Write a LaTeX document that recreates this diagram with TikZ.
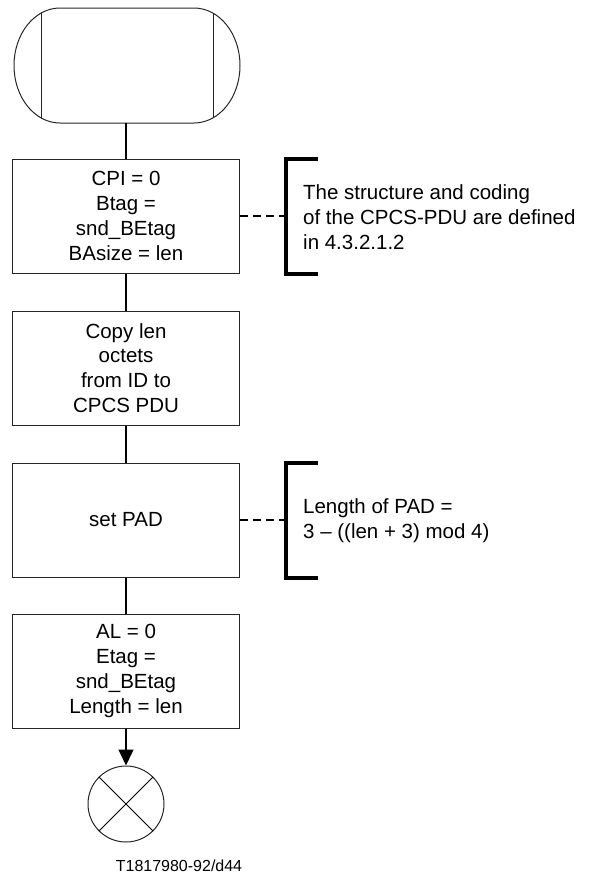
\documentclass[tikz,border=0pt]{standalone}
\usepackage{fontspec}
\setmainfont{Liberation Sans}
\usetikzlibrary{arrows.meta}
\begin{document}
\begin{tikzpicture}[x=1bp,y=-1bp,
  box/.style={draw=black!85, line width=1bp, minimum width=227bp, minimum height=114bp,
    align=center, inner sep=0pt, font=\fontsize{20.5bp}{24.8bp}\selectfont},
  conn/.style={line width=1.5bp},
  cmt/.style={line width=1.2bp, dash pattern=on 8bp off 5bp},
  brk/.style={line width=4bp, line join=miter},
  ctext/.style={anchor=west, align=left, inner sep=0pt, font=\fontsize{20.5bp}{25bp}\selectfont},
  termline/.style={line width=1bp, draw=black!85}]
\useasboundingbox (0,0) rectangle (591,877);

% start terminator
\draw[termline] (60,8) arc[start angle=270, end angle=90, x radius=46, y radius=57.5]
  -- (194,123) arc[start angle=90, end angle=-90, x radius=46, y radius=57.5] -- cycle;
\begin{scope}
  \clip (60,8) arc[start angle=270, end angle=90, x radius=46, y radius=57.5]
  -- (194,123) arc[start angle=90, end angle=-90, x radius=46, y radius=57.5] -- cycle;
  \draw[termline] (41,0) -- (41,130);
  \draw[termline] (213,0) -- (213,130);
\end{scope}
\coordinate (tb) at (126,123);

% boxes
\node[box] (b1) at (126,216) {CPI = 0\\Btag =\\snd\_BEtag\\BAsize = len};
\node[box] (b2) at (126,368) {Copy len\\octets\\from ID to\\CPCS PDU};
\node[box] (b3) at (126,520) {set PAD};
\node[box] (b4) at (126,671) {AL = 0\\Etag =\\snd\_BEtag\\Length = len};

% end symbol
\node[draw=black!85, circle, minimum size=76bp, inner sep=0pt, line width=1bp] (e) at (126,804) {};
\draw[line width=0.8bp] (e.north west) -- (e.south east);
\draw[line width=0.8bp] (e.north east) -- (e.south west);

% connectors
\draw[conn] (tb) -- (b1.north);
\draw[conn] (b1.south) -- (b2.north);
\draw[conn] (b2.south) -- (b3.north);
\draw[conn] (b3.south) -- (b4.north);
\draw[conn, -{Triangle[length=16bp,width=15bp]}] (b4.south) -- (e.north);

% comments
\draw[cmt] (b1.east) -- ++(46,0);
\draw[brk] ([xshift=78bp]b1.north east) -- ([xshift=46bp]b1.north east)
  -- ([xshift=46bp]b1.south east) -- ([xshift=78bp]b1.south east);
\node[ctext] (c1) at (303,217) {The structure and coding\\of the CPCS-PDU are defined\\in 4.3.2.1.2};

\draw[cmt] (b3.east) -- ++(46,0);
\draw[brk] ([xshift=78bp]b3.north east) -- ([xshift=46bp]b3.north east)
  -- ([xshift=46bp]b3.south east) -- ([xshift=78bp]b3.south east);
\node[ctext] (c2) at (303,521) {Length of PAD =\\3 – ((len + 3) mod 4)};

% caption
\node[font=\fontsize{16bp}{19bp}\selectfont, inner sep=0pt] (cap) at (179,866) {T1817980-92/d44};
\end{tikzpicture}
\end{document}
